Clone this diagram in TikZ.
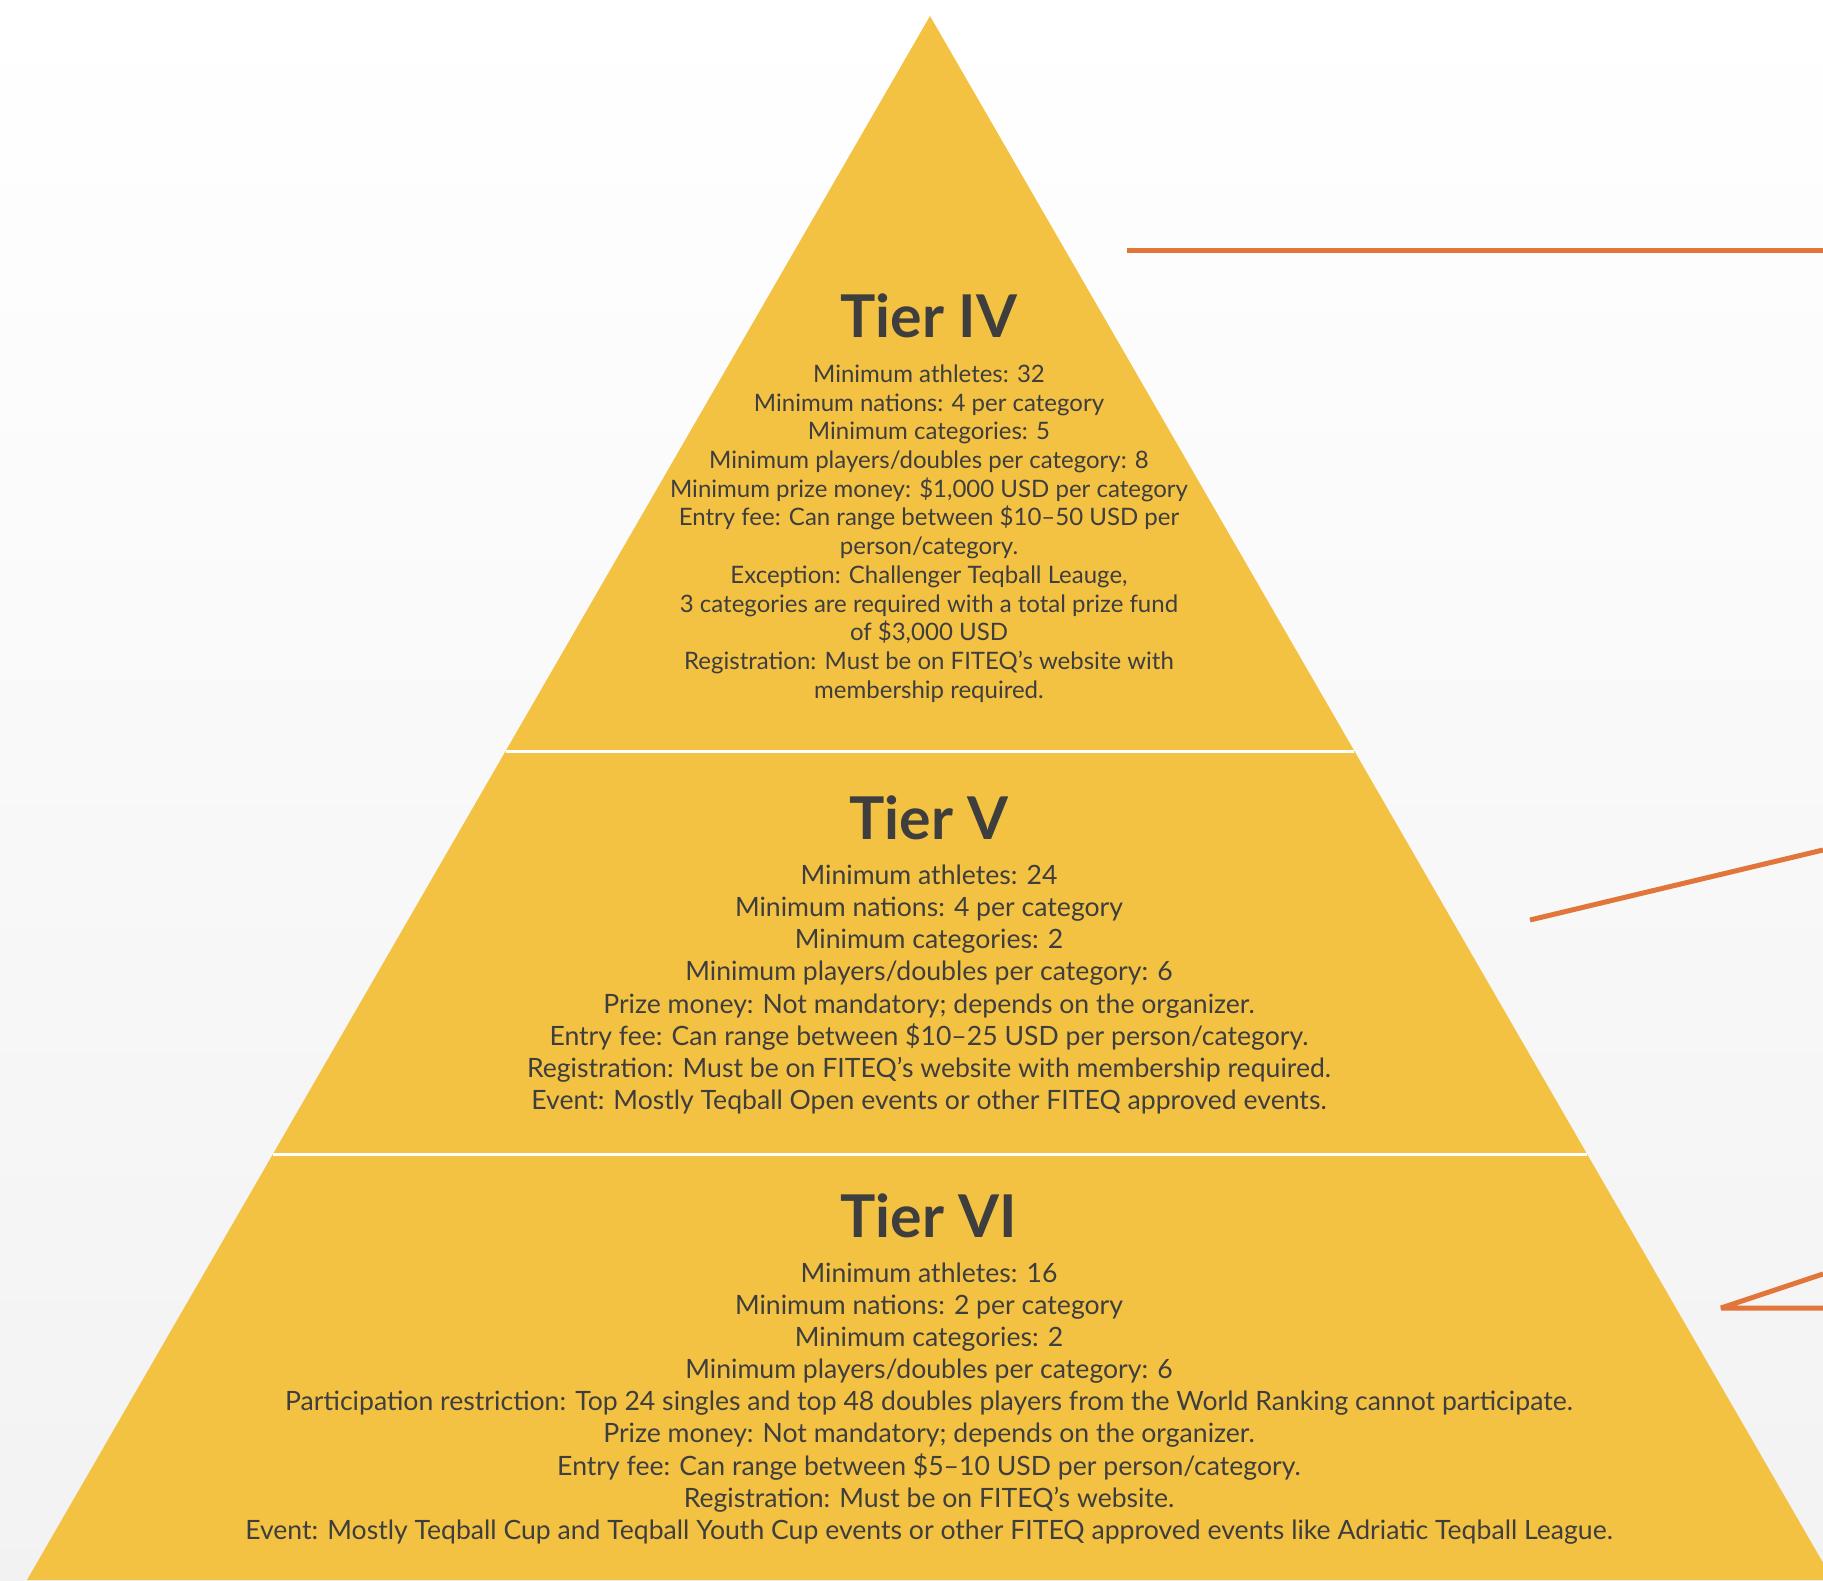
\documentclass[tikz,border=0pt]{standalone}
\usepackage{fontspec}
\setmainfont{Lato}
\definecolor{tierfill}{HTML}{F4C243}
\definecolor{txt}{HTML}{3E3E3E}
\definecolor{orng}{HTML}{E2763A}
\tikzset{
  tiershape/.style={fill=tierfill, draw=none},
  sepline/.style={draw=white, line width=3pt},
  title/.style={text=txt, font=\bfseries\fontsize{59}{59}\selectfont, inner sep=0pt, anchor=base},
  bodyIV/.style={text=txt, font=\fontsize{24}{28.7}\selectfont, align=center, inner sep=0pt},
  bodyVI/.style={text=txt, font=\fontsize{26.6}{32.1}\selectfont, align=center, inner sep=0pt},
  callout/.style={draw=orng, line width=5pt},
}
\begin{document}
\begin{tikzpicture}[x=1pt,y=-1pt]
\useasboundingbox (0,0) rectangle (1823,1580);
\shade[top color=white, bottom color=black!5] (0,0) rectangle (1823,1580);
% pyramid corners
\coordinate (apex) at (930,16);
\coordinate (l1) at (506,751);
\coordinate (r1) at (1354,751);
\coordinate (l2) at (273,1154);
\coordinate (r2) at (1587,1154);
\coordinate (l3) at (27,1580);
\coordinate (r3) at (1833,1580);
\begin{scope}
\clip (0,0) rectangle (1823,1580);
\fill[tiershape] (apex) -- (r3) -- (l3) -- cycle;
\end{scope}
\draw[sepline] (l1) -- (r1);
\draw[sepline] (l2) -- (r2);
% callout lines
\coordinate (c1a) at (1127,250);
\coordinate (c1b) at (1823,250);
\coordinate (c2a) at (1530,920);
\coordinate (c2b) at (1823,850);
\coordinate (c3b) at (1823,1274);
\coordinate (c3a) at (1721,1308);
\coordinate (c3c) at (1823,1308);
\draw[callout] (c1a) -- (c1b);
\draw[callout] (c2a) -- (c2b);
\draw[callout, line join=bevel] (c3b) -- (c3a) -- (c3c);
% texts
\node[title] (t4) at (929,337) {Tier IV};
\node[bodyIV] (b4) at (929,533.5) {Minimum athletes: 32\\
Minimum nations: 4 per category\\
Minimum categories: 5\\
Minimum players/doubles per category: 8\\
Minimum prize money: \$1,000 USD per category\\
Entry fee: Can range between \$10–50 USD per\\
person/category.\\
Exception: Challenger Teqball Leauge,\\
3 categories are required with a total prize fund\\
of \$3,000 USD\\
Registration: Must be on FITEQ’s website with\\
membership required.};
\node[title] (t5) at (929,839) {Tier V};
\node[bodyVI] (b5) at (929,989.5) {Minimum athletes: 24\\
Minimum nations: 4 per category\\
Minimum categories: 2\\
Minimum players/doubles per category: 6\\
Prize money: Not mandatory; depends on the organizer.\\
Entry fee: Can range between \$10–25 USD per person/category.\\
Registration: Must be on FITEQ’s website with membership required.\\
Event: Mostly Teqball Open events or other FITEQ approved events.};
\node[title] (t6) at (929,1237) {Tier VI};
\node[bodyVI] (b6) at (929,1403.5) {Minimum athletes: 16\\
Minimum nations: 2 per category\\
Minimum categories: 2\\
Minimum players/doubles per category: 6\\
Participation restriction: Top 24 singles and top 48 doubles players from the World Ranking cannot participate.\\
Prize money: Not mandatory; depends on the organizer.\\
Entry fee: Can range between \$5–10 USD per person/category.\\
Registration: Must be on FITEQ’s website.\\
Event: Mostly Teqball Cup and Teqball Youth Cup events or other FITEQ approved events like Adriatic Teqball League.};
\end{tikzpicture}
\end{document}
